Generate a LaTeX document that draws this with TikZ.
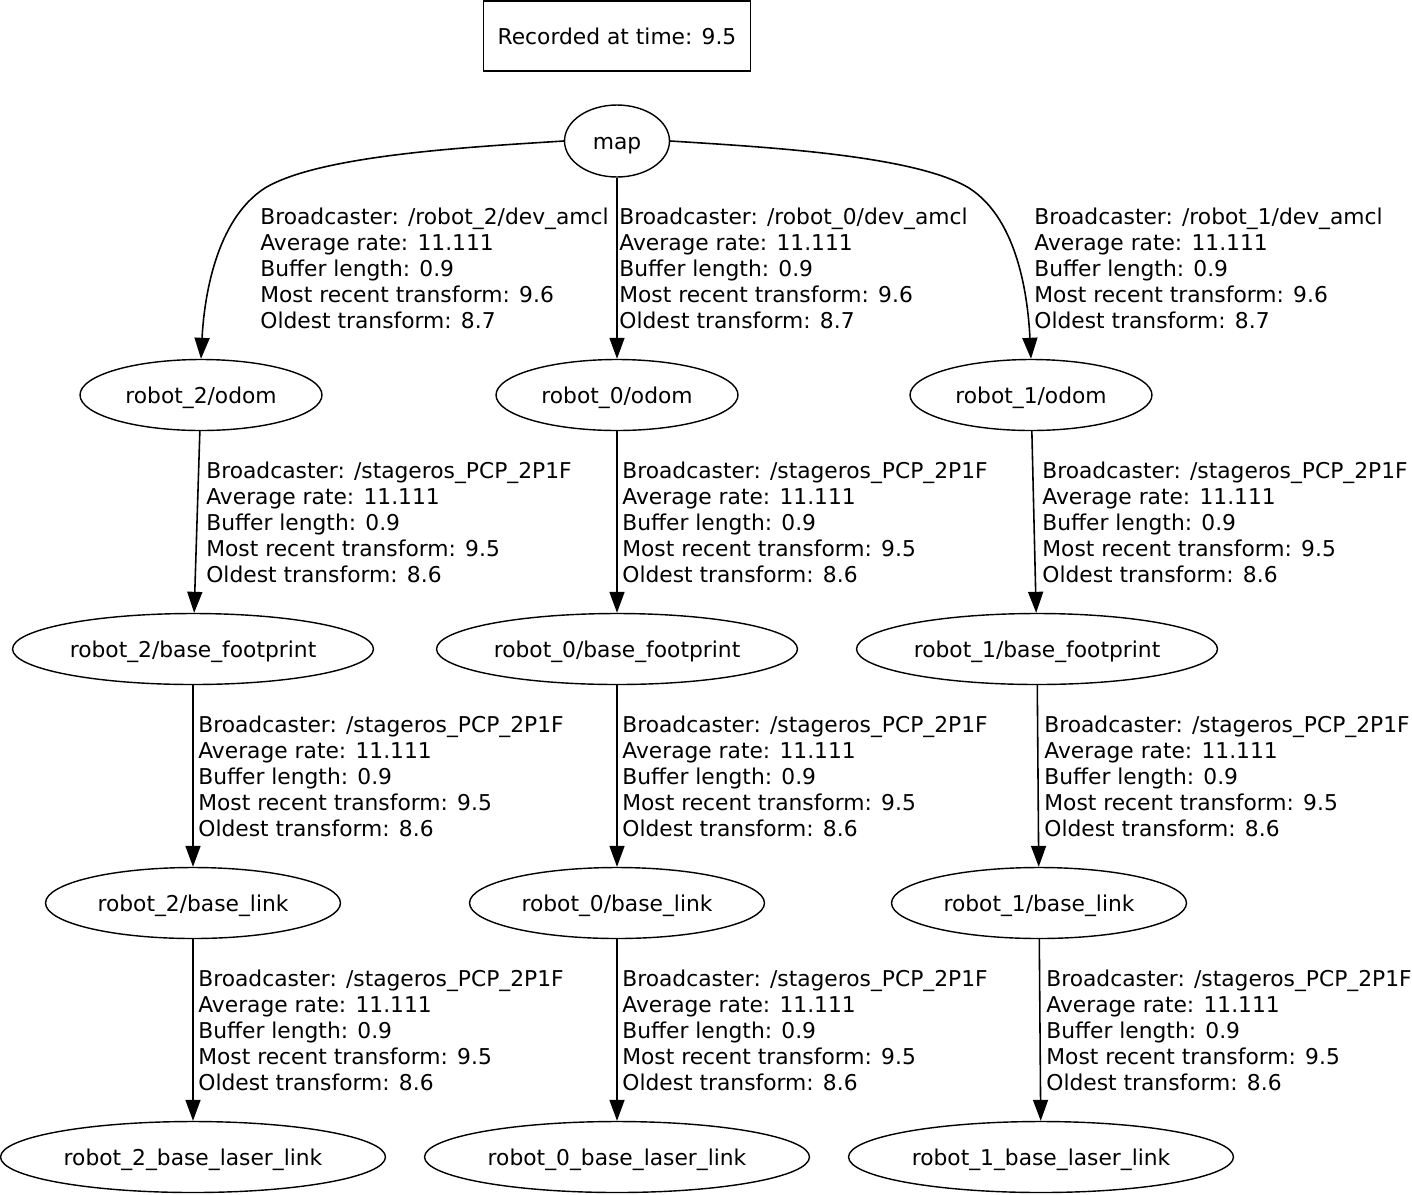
\documentclass[tikz,border=0pt]{standalone}
\usepackage{fontspec}
\setmainfont{DejaVu Sans}
\usetikzlibrary{shapes.geometric, arrows.meta, positioning}

\newcommand{\tfinfo}[3]{Broadcaster: #1\\Average rate: 11.111\\Buffer length: 0.9\\Most recent transform: #2\\Oldest transform: #3}

\begin{document}
\begin{tikzpicture}[
        x=0.02cm, y=-0.02cm,
        frame/.style={draw, ellipse, line width=0.8pt, minimum height=1.42cm, inner sep=0pt,
                      text height=9.2pt, text depth=0pt, font=\fontsize{12.4}{14.8}\selectfont},
        stamp/.style={draw, rectangle, line width=0.8pt, minimum width=5.34cm, minimum height=1.4cm,
                      font=\fontsize{12.4}{14.8}\selectfont},
        info/.style={anchor=west, align=left, inner sep=0pt, font=\fontsize{12.4}{14.8}\selectfont},
        arrow/.style={-{Triangle[length=0.42cm, width=0.3cm]}, line width=0.9pt}
      ]
        \useasboundingbox (0,0) rectangle (1412,1194);
        \node[stamp] (stamp) at (617,36) {Recorded at time: 9.5};
        \node[frame, minimum width=2.1cm, minimum height=1.44cm] (map) at (617,141) {map};
        % odom frames
        \node[frame, minimum width=4.84cm] (r2odom) at (201,395) {robot\_2/odom};
        \node[frame, minimum width=4.84cm] (r0odom) at (617,395) {robot\_0/odom};
        \node[frame, minimum width=4.84cm] (r1odom) at (1031,395) {robot\_1/odom};
        % base footprints
        \node[frame, minimum width=7.22cm] (r2foot) at (193,649) {robot\_2/base\_footprint};
        \node[frame, minimum width=7.22cm] (r0foot) at (617,649) {robot\_0/base\_footprint};
        \node[frame, minimum width=7.22cm] (r1foot) at (1037,649) {robot\_1/base\_footprint};
        % base links
        \node[frame, minimum width=5.9cm] (r2link) at (193,903) {robot\_2/base\_link};
        \node[frame, minimum width=5.9cm] (r0link) at (617,903) {robot\_0/base\_link};
        \node[frame, minimum width=5.9cm] (r1link) at (1039,903) {robot\_1/base\_link};
        % laser links
        \node[frame, minimum width=7.7cm] (r2laser) at (193,1157) {robot\_2\_base\_laser\_link};
        \node[frame, minimum width=7.7cm] (r0laser) at (617,1157) {robot\_0\_base\_laser\_link};
        \node[frame, minimum width=7.7cm] (r1laser) at (1041,1157) {robot\_1\_base\_laser\_link};

        % edge labels
        \node[info] (amcl2) at (260,268) {\tfinfo{/robot\_2/dev\_amcl}{9.6}{8.7}};
        \node[info] (amcl0) at (619,268) {\tfinfo{/robot\_0/dev\_amcl}{9.6}{8.7}};
        \node[info] (amcl1) at (1034,268) {\tfinfo{/robot\_1/dev\_amcl}{9.6}{8.7}};
        \node[info] (foot2) at (206,522) {\tfinfo{/stageros\_PCP\_2P1F}{9.5}{8.6}};
        \node[info] (foot0) at (622,522) {\tfinfo{/stageros\_PCP\_2P1F}{9.5}{8.6}};
        \node[info] (foot1) at (1042,522) {\tfinfo{/stageros\_PCP\_2P1F}{9.5}{8.6}};
        \node[info] (link2) at (198,776) {\tfinfo{/stageros\_PCP\_2P1F}{9.5}{8.6}};
        \node[info] (link0) at (622,776) {\tfinfo{/stageros\_PCP\_2P1F}{9.5}{8.6}};
        \node[info] (link1) at (1044,776) {\tfinfo{/stageros\_PCP\_2P1F}{9.5}{8.6}};
        \node[info] (laser2) at (198,1030) {\tfinfo{/stageros\_PCP\_2P1F}{9.5}{8.6}};
        \node[info] (laser0) at (622,1030) {\tfinfo{/stageros\_PCP\_2P1F}{9.5}{8.6}};
        \node[info] (laser1) at (1046,1030) {\tfinfo{/stageros\_PCP\_2P1F}{9.5}{8.6}};

        % edges from map
        \draw[arrow] (map.west) .. controls (470,147) and (320,155) .. (265,188)
              .. controls (215,220) and (204,300) .. (r2odom.north);
        \draw[arrow] (map) -- (r0odom);
        \draw[arrow] (map.east) .. controls (764,147) and (914,155) .. (969,188)
              .. controls (1019,220) and (1028,300) .. (r1odom.north);
        % chains
        \draw[arrow] (r2odom) -- (r2foot);
        \draw[arrow] (r0odom) -- (r0foot);
        \draw[arrow] (r1odom) -- (r1foot);
        \draw[arrow] (r2foot) -- (r2link);
        \draw[arrow] (r0foot) -- (r0link);
        \draw[arrow] (r1foot) -- (r1link);
        \draw[arrow] (r2link) -- (r2laser);
        \draw[arrow] (r0link) -- (r0laser);
        \draw[arrow] (r1link) -- (r1laser);
      \end{tikzpicture}
\end{document}
